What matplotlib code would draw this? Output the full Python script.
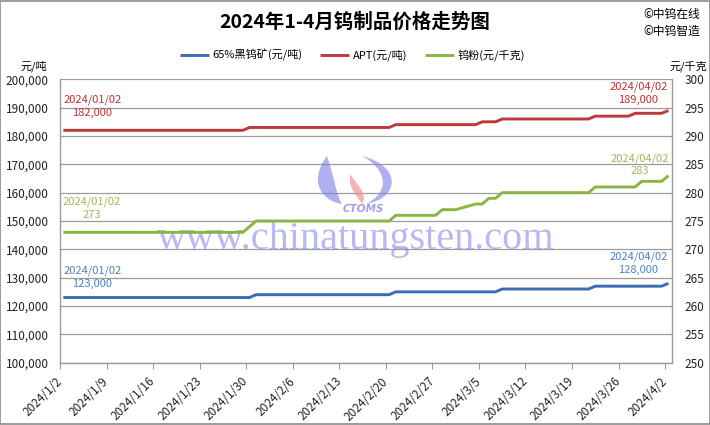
import matplotlib
matplotlib.use('Agg')
import matplotlib.pyplot as plt
import pandas as pd
from matplotlib.patches import Rectangle, PathPatch
from matplotlib.path import Path
from matplotlib.ticker import FuncFormatter, MultipleLocator

plt.rcParams['font.family'] = ['Noto Sans CJK SC', 'DejaVu Sans']

title = '2024年1-4月钨制品价格走势图'
series_names = ['65%黑钨矿(元/吨)', 'APT(元/吨)', '钨粉(元/千克)']

ore_dates = ['2024-01-02', '2024-01-30', '2024-01-31', '2024-02-20', '2024-02-21',
             '2024-03-07', '2024-03-08', '2024-03-21', '2024-03-22', '2024-04-01', '2024-04-02']
ore_values = [123000, 123000, 124000, 124000, 125000, 125000, 126000, 126000, 127000, 127000, 128000]

apt_dates = ['2024-01-02', '2024-01-29', '2024-01-30', '2024-02-20', '2024-02-21',
             '2024-03-04', '2024-03-05', '2024-03-07', '2024-03-08', '2024-03-21',
             '2024-03-22', '2024-03-27', '2024-03-28', '2024-04-01', '2024-04-02']
apt_values = [182000, 182000, 183000, 183000, 184000, 184000, 185000, 185000, 186000, 186000,
              187000, 187000, 188000, 188000, 189000]

powder_dates = ['2024-01-02', '2024-01-29', '2024-01-30', '2024-01-31', '2024-02-20',
                '2024-02-21', '2024-02-27', '2024-02-28', '2024-03-01', '2024-03-04',
                '2024-03-05', '2024-03-06', '2024-03-07', '2024-03-08', '2024-03-21',
                '2024-03-22', '2024-03-28', '2024-03-29', '2024-04-01', '2024-04-02']
powder_values = [273, 273, 274, 275, 275, 276, 276, 277, 277, 278, 278, 279, 279, 280, 280,
                 281, 281, 282, 282, 283]

tick_dates = pd.date_range('2024-01-02', '2024-04-02', freq='7D')
tick_labels = [f'{d.year}/{d.month}/{d.day}' for d in tick_dates]

c_blue, c_red, c_green = '#3A6DB3', '#BE3A3A', '#8DB443'
t_blue, t_red, t_green = '#4F81BD', '#C0312F', '#9BBB59'
grid_c = '#9c9c9c'
W, H = 710, 425

fig = plt.figure(figsize=(7.1, 4.25), dpi=100)
L, R, T, B = 60 / W, 671.7 / W, 1 - 79.3 / H, 1 - 362.7 / H
ax = fig.add_axes([L, B, R - L, T - B])
ax2 = ax.twinx()

half = pd.Timedelta(hours=12)
ore_x = pd.to_datetime(ore_dates) + half
apt_x = pd.to_datetime(apt_dates) + half
pow_x = pd.to_datetime(powder_dates) + half

l1, = ax.plot(ore_x, ore_values, color=c_blue, lw=2.1, solid_capstyle='butt', zorder=3)
l2, = ax.plot(apt_x, apt_values, color=c_red, lw=2.1, solid_capstyle='butt', zorder=3)
l3, = ax2.plot(pow_x, powder_values, color=c_green, lw=2.1, solid_capstyle='butt', zorder=3)

ax.set_xlim(pd.Timestamp('2024-01-02'), pd.Timestamp('2024-04-03'))
ax.set_ylim(100000, 200000)
ax2.set_ylim(250, 300)
ax.yaxis.set_major_locator(MultipleLocator(10000))
ax.yaxis.set_major_formatter(FuncFormatter(lambda v, p: f'{int(v):,}'))
ax2.yaxis.set_major_locator(MultipleLocator(5))

ax.set_xticks(tick_dates)
ax.set_xticklabels(tick_labels, rotation=45, ha='right', va='center', rotation_mode='anchor')
ax.tick_params(axis='x', length=4, color=grid_c, pad=8, labelsize=8.5, labelcolor='#222222')
ax.tick_params(axis='y', length=0, pad=8, labelsize=8.5, labelcolor='#222222')
ax2.tick_params(axis='y', length=0, pad=9, labelsize=8.5, labelcolor='#222222')

ax.yaxis.grid(True, color=grid_c, lw=0.9)
ax.set_axisbelow(True)
ax.spines['top'].set_visible(False)
ax2.spines['top'].set_visible(False)
ax.spines['right'].set_visible(False)
ax2.spines['left'].set_visible(False)
ax2.spines['bottom'].set_visible(False)
for sp in [ax.spines['left'], ax.spines['bottom'], ax2.spines['right']]:
    sp.set_color(grid_c)
    sp.set_linewidth(1)


def lab(axis, xs, vals, i, color, dx, dy):
    d = pd.Timestamp(xs[i])
    v = vals[i]
    txt = f'{d:%Y/%m/%d}\n{v:,}'
    axis.annotate(txt, xy=(xs[i], v), xytext=(dx, dy), textcoords='offset pixels',
                  ha='center', va='center', fontsize=8, color=color, linespacing=1.35,
                  zorder=5)


lab(ax, apt_x, apt_values, 0, t_red, 29, 24)
lab(ax, apt_x, apt_values, -1, t_red, -30, 17)
lab(ax2, pow_x, powder_values, 0, t_green, 28, 24)
lab(ax2, pow_x, powder_values, -1, t_green, -29, 11)
lab(ax, ore_x, ore_values, 0, t_blue, 29, 20)
lab(ax, ore_x, ore_values, -1, t_blue, -30, 20)

# watermark text
ax.text(356 / W, 1 - 239 / H, 'www.chinatungsten.com', transform=fig.transFigure,
        ha='center', va='center', fontsize=29, family='Liberation Serif',
        color='#7373E6', alpha=0.5, zorder=1)
ax.text(363 / W, 1 - 209 / H, 'CTOMS', transform=fig.transFigure,
        ha='center', va='center', fontsize=7.5, fontstyle='italic', fontweight='bold',
        family='DejaVu Sans', color='#8080E8', alpha=0.75, zorder=1)


# watermark logo (decorative flames), pixel coords -> figure fraction
def fp(pts):
    return [(x / W, 1 - y / H) for x, y in pts]


C = [Path.MOVETO, Path.CURVE4, Path.CURVE4, Path.CURVE4,
     Path.CURVE4, Path.CURVE4, Path.CURVE4]
left_flame = Path(fp([(327, 156), (310, 178), (318, 200), (342, 204),
                      (336, 194), (334, 176), (327, 156)]), C)
pink_flame = Path(fp([(350, 174), (348, 190), (358, 196), (362, 204),
                      (368, 194), (358, 186), (350, 174)]), C)
right_s = Path(fp([(362, 156), (402, 166), (400, 198), (366, 204),
                   (390, 192), (388, 170), (362, 156)]), C)
for pth, col in [(left_flame, '#8585EA'), (pink_flame, '#F08A8A'), (right_s, '#8585EA')]:
    fig.patches.append(PathPatch(pth, transform=fig.transFigure, facecolor=col,
                                 edgecolor='none', alpha=0.65, zorder=1))

fig.text(0.5, 1 - 22 / H, title, ha='center', va='center', fontsize=14, fontweight='bold')
fig.text(700 / W, 1 - 14 / H, '©中钨在线', ha='right', va='center', fontsize=8.5)
fig.text(700 / W, 1 - 31 / H, '©中钨智造', ha='right', va='center', fontsize=8.5)
fig.text(34 / W, 1 - 66 / H, '元/吨', ha='center', va='center', fontsize=8)
fig.text(688 / W, 1 - 66 / H, '元/千克', ha='center', va='center', fontsize=8)

fig.legend([l1, l2, l3], series_names, loc='center', bbox_to_anchor=(0.4965, 1 - 55 / H),
           ncol=3, frameon=False, fontsize=8, handlelength=2.6, handletextpad=0.3,
           columnspacing=1.6)

fig.patches.append(Rectangle((0.0007, 0.0012), 0.9986, 0.9976, transform=fig.transFigure,
                             fill=False, edgecolor='#8c8c8c', lw=1.2))

fig.savefig('out.png', dpi=100)
